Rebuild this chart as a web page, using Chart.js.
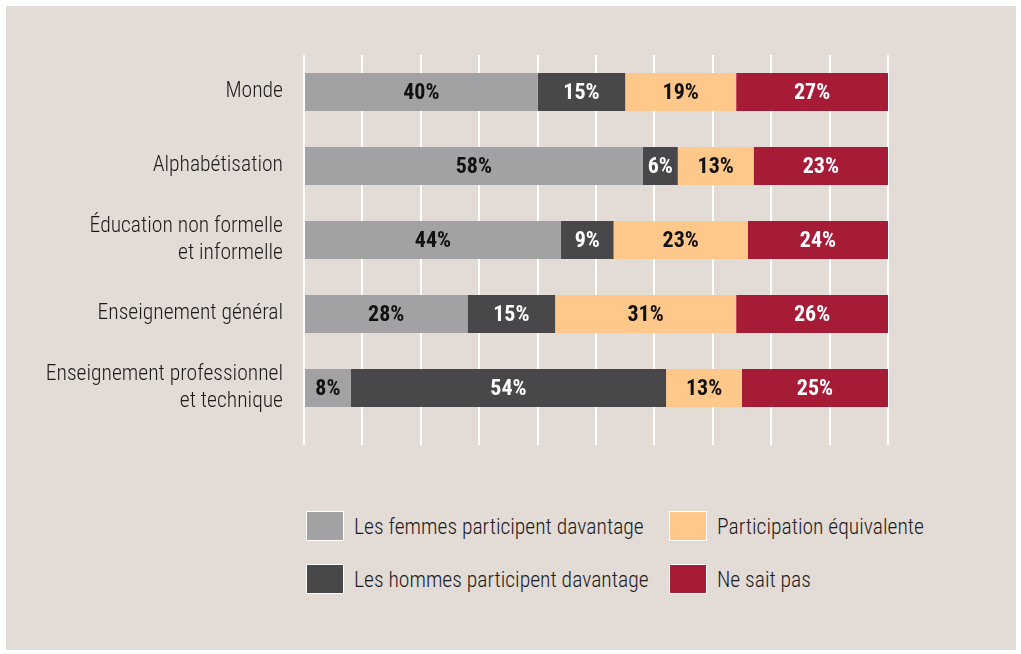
<!DOCTYPE html>
<html>
<head>
<meta charset="utf-8">
<script src="https://cdn.jsdelivr.net/npm/chart.js@4.4.1/dist/chart.umd.min.js"></script>
<style>
  body { margin: 0; background: #fff; width: 1021px; height: 654px; overflow: hidden; }
  #panel { position: absolute; left: 6px; top: 6px; width: 1010px; height: 644px; background: #e3dbd6; }
  #wrap { position: absolute; left: 0; top: 0; width: 1021px; height: 470px; }
  #legend { position: absolute; left: 306px; top: 511px; color: #1d1a1b; font-size: 21.6px; font-weight: 350; }
  .item { position: absolute; display: flex; align-items: center; white-space: nowrap; height: 30px; }
  .box { width: 38px; height: 30px; box-sizing: border-box; border: 1px solid #fff; margin-right: 10px; }
</style>
</head>
<body>
<div id="panel"></div>
<div id="wrap"><canvas id="myChart"></canvas></div>
<div id="legend"></div>
<script>
// categories and series (percent of countries)
var categories = ['Monde', 'Alphabétisation', ['Éducation non formelle', 'et informelle'],
                  'Enseignement général', ['Enseignement professionnel', 'et technique']];
var femmes   = [40, 58, 44, 28, 8];
var hommes   = [15, 6, 9, 15, 54];
var egal     = [19, 13, 23, 31, 13];
var nsp      = [27, 23, 24, 26, 25];
var seriesNames = ['Les femmes participent davantage', 'Les hommes participent davantage',
                   'Participation équivalente', 'Ne sait pas'];
var colors = ['#a2a2a4', '#48484a', '#fec88a', '#a61c37'];
var labelColors = ['#111', '#fff', '#111', '#fff'];

// pick a narrow font if one is installed
function pickFont(list, fallback) {
  var c = document.createElement('canvas').getContext('2d');
  var s = 'Les femmes participent davantage';
  c.font = '20px monospace';
  var base = c.measureText(s).width;
  for (var i = 0; i < list.length; i++) {
    c.font = '20px "' + list[i] + '", monospace';
    if (c.measureText(s).width !== base) return list[i];
  }
  return fallback;
}
var family = pickFont(['Roboto Condensed', 'Liberation Sans Narrow', 'DejaVu Sans Condensed'], 'Roboto');
var fontStack = '"' + family + '", Roboto, sans-serif';

Chart.defaults.font.family = fontStack;
Chart.defaults.color = '#1d1a1b';

// percentage labels centred in each segment
var valueLabels = {
  id: 'valueLabels',
  afterDatasetsDraw: function (chart) {
    var ctx = chart.ctx;
    ctx.save();
    ctx.font = 'bold 22px ' + fontStack;
    ctx.textAlign = 'center';
    ctx.textBaseline = 'middle';
    chart.data.datasets.forEach(function (ds, i) {
      chart.getDatasetMeta(i).data.forEach(function (bar, j) {
        var left = Math.min(bar.x, bar.base);
        var right = Math.min(Math.max(bar.x, bar.base), chart.chartArea.right);
        ctx.fillStyle = labelColors[i];
        ctx.fillText(ds.data[j] + '%', (left + right) / 2, bar.y + 1);
      });
    });
    ctx.restore();
  }
};

var seriesData = [femmes, hommes, egal, nsp];
var datasets = seriesData.map(function (d, i) {
  return {
    label: seriesNames[i],
    data: d,
    backgroundColor: colors[i],
    borderWidth: 0,
    barPercentage: 0.514,
    categoryPercentage: 1,
    clip: 0
  };
});

var ctx = document.getElementById('myChart').getContext('2d');
var myChart = new Chart(ctx, {
  type: 'bar',
  data: { labels: categories, datasets: datasets },
  plugins: [valueLabels],
  options: {
    indexAxis: 'y',
    responsive: true,
    maintainAspectRatio: false,
    animation: false,
    layout: { padding: { top: 55, right: 133, bottom: 25, left: 0 } },
    plugins: { legend: { display: false }, tooltip: { enabled: false } },
    scales: {
      x: {
        stacked: true,
        min: 0,
        max: 100,
        ticks: { display: false, stepSize: 10 },
        grid: { color: '#fff', lineWidth: 2, tickLength: 20 },
        border: { display: false },
        afterFit: function (s) { s.height = 20; }
      },
      y: {
        stacked: true,
        grid: { display: false, drawTicks: false },
        border: { display: false },
        ticks: { padding: 21, font: { size: 21.6, weight: 350, lineHeight: 1.25 }, color: '#1d1a1b' },
        afterFit: function (s) { s.width = 304; }
      }
    }
  }
});

// legend laid out in two columns like the original
var legend = document.getElementById('legend');
seriesNames.forEach(function (name, i) {
  var item = document.createElement('div');
  item.className = 'item';
  item.style.left = (i < 2 ? 0 : 363) + 'px';
  item.style.top = (i % 2 === 0 ? 0 : 53) + 'px';
  item.style.fontFamily = fontStack;
  item.innerHTML = '<span class="box" style="background:' + colors[i] + '"></span>' + name;
  legend.appendChild(item);
});
</script>
</body>
</html>
